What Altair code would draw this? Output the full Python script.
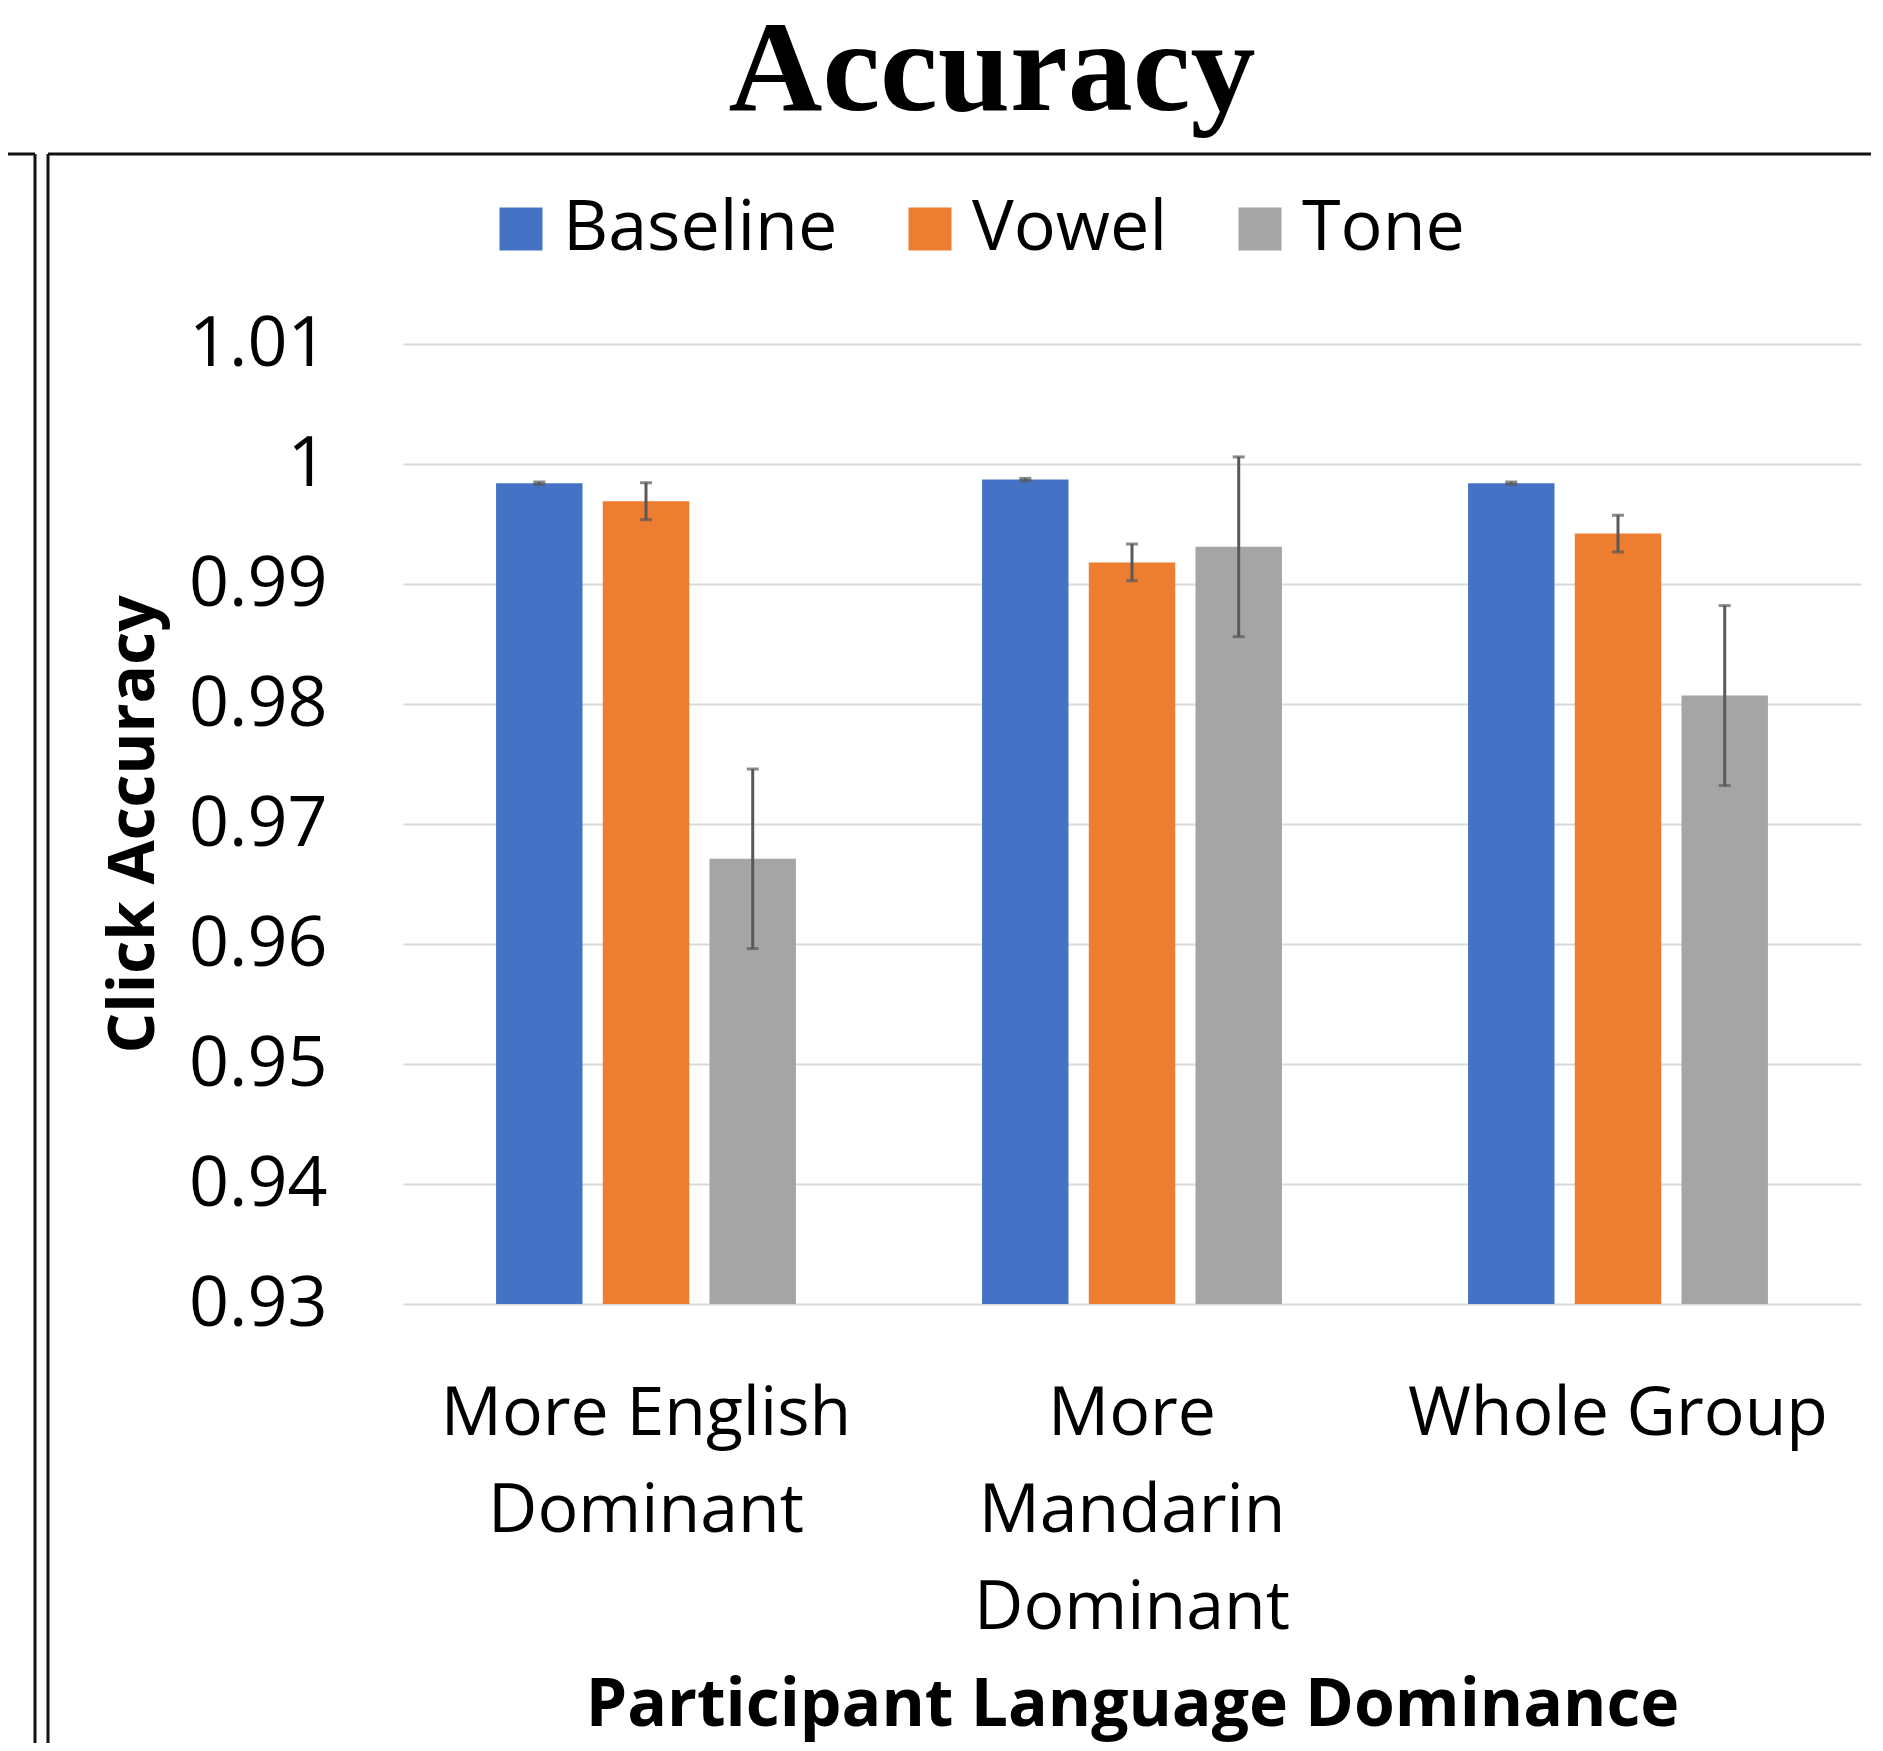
import altair as alt
import pandas as pd

# ---- data ----
groups = ["More English Dominant", "More Mandarin Dominant", "Whole Group"]
conditions = ["Baseline", "Vowel", "Tone"]
baseline = [0.9984, 0.9987, 0.9984]
vowel = [0.9969, 0.9918, 0.9942]
tone = [0.9671, 0.9931, 0.9807]
baseline_err = [0.0001, 0.0001, 0.0001]
vowel_err = [0.00154, 0.00153, 0.00153]
tone_err = [0.00748, 0.00749, 0.0075]
y_ticks = [0.93, 0.94, 0.95, 0.96, 0.97, 0.98, 0.99, 1.0, 1.01]
colors = ["#4472C4", "#ED7D31", "#A5A5A5"]

rows = []
for cond, vals, errs in [("Baseline", baseline, baseline_err),
                         ("Vowel", vowel, vowel_err),
                         ("Tone", tone, tone_err)]:
    for g, v, e in zip(groups, vals, errs):
        rows.append({"group": g, "condition": cond, "acc": v,
                     "lo": v - e, "hi": v + e, "base": 0.93})
df = pd.DataFrame(rows)

FONT = "Open Sans"

x_enc = alt.X("group:N", sort=groups,
              scale=alt.Scale(paddingInner=0.383, paddingOuter=0.1915),
              axis=alt.Axis(title="Participant Language Dominance",
                            labelAngle=0, labelFont=FONT, labelFontSize=68,
                            labelColor="black", labelPadding=76,
                            labelBaseline="top", labelLineHeight=97,
                            labelLimit=0, ticks=False, domain=False,
                            labelExpr="datum.value == 'More English Dominant' ? ['More English', 'Dominant'] : datum.value == 'More Mandarin Dominant' ? ['More', 'Mandarin', 'Dominant'] : datum.value",
                            titleFont=FONT, titleFontSize=66, titleFontWeight="bold",
                            titleColor="black", titleBaseline="alphabetic",
                            titleY=421))
xoff_enc = alt.XOffset("condition:N", sort=conditions,
                       scale=alt.Scale(paddingInner=0.19, paddingOuter=0))
y_scale = alt.Scale(domain=[0.93, 1.01], zero=False, nice=False)

base = alt.Chart(df)

bars = base.mark_bar().encode(
    x=x_enc,
    xOffset=xoff_enc,
    y=alt.Y("acc:Q", scale=y_scale,
            axis=alt.Axis(values=y_ticks, format=".6~g", title="Click Accuracy",
                          labelFont=FONT, labelFontSize=70, labelColor="black",
                          labelPadding=76, ticks=False, domain=False,
                          grid=True, gridColor="#d9d9d9", gridWidth=2,
                          titleFont=FONT, titleFontSize=64, titleFontWeight="bold",
                          titleColor="black", titleAngle=270, titleAlign="center",
                          titleBaseline="alphabetic", titleX=-250, titleY=480)),
    y2="base:Q",
    color=alt.Color("condition:N", sort=conditions,
                    scale=alt.Scale(domain=conditions, range=colors),
                    legend=alt.Legend(title=None, orient="none", direction="horizontal",
                                      legendX=83, legendY=-150, symbolType="square",
                                      symbolSize=1849, symbolStrokeWidth=0,
                                      labelFont=FONT, labelFontSize=70,
                                      labelColor="black", labelOffset=7,
                                      columnPadding=57, padding=0, labelLimit=0)),
)

err_rule = base.mark_rule(color="#595959", strokeWidth=3).encode(
    x=alt.X("group:N", sort=groups), xOffset=xoff_enc,
    y=alt.Y("lo:Q", scale=y_scale), y2="hi:Q")
cap_lo = base.mark_tick(color="#595959", thickness=3, size=12).encode(
    x=alt.X("group:N", sort=groups), xOffset=xoff_enc,
    y=alt.Y("lo:Q", scale=y_scale))
cap_hi = base.mark_tick(color="#595959", thickness=3, size=12).encode(
    x=alt.X("group:N", sort=groups), xOffset=xoff_enc,
    y=alt.Y("hi:Q", scale=y_scale))

# decorative frame lines of the surrounding slide panels
deco = pd.DataFrame({"d": [0]})
frame_style = dict(color="#111111", strokeWidth=3)
h_left = alt.Chart(deco).mark_rule(**frame_style).encode(
    x=alt.value(-395), x2=alt.value(-368), y=alt.value(-190), y2=alt.value(-190))
h_right = alt.Chart(deco).mark_rule(**frame_style).encode(
    x=alt.value(-355), x2=alt.value(1480), y=alt.value(-190), y2=alt.value(-190))
v_left = alt.Chart(deco).mark_rule(**frame_style).encode(
    x=alt.value(-368), y=alt.value(-190), y2=alt.value(1400))
v_right = alt.Chart(deco).mark_rule(**frame_style).encode(
    x=alt.value(-355), y=alt.value(-190), y2=alt.value(1400))

chart = alt.layer(bars, err_rule, cap_lo, cap_hi, h_left, h_right, v_left, v_right).properties(
    width=1458, height=960,
    padding={"left": 395, "top": 336, "right": 10, "bottom": 439},
    autosize=alt.AutoSizeParams(type="none"),
    background="white",
    title=alt.TitleParams(text="Accuracy", font="Liberation Serif", fontSize=130,
                          fontWeight="bold", color="black", anchor="middle",
                          frame="group", baseline="alphabetic", dx=-140, offset=-87),
).configure_view(stroke=None)

chart.save("out.html", embed_options={"renderer": "svg", "actions": False})
